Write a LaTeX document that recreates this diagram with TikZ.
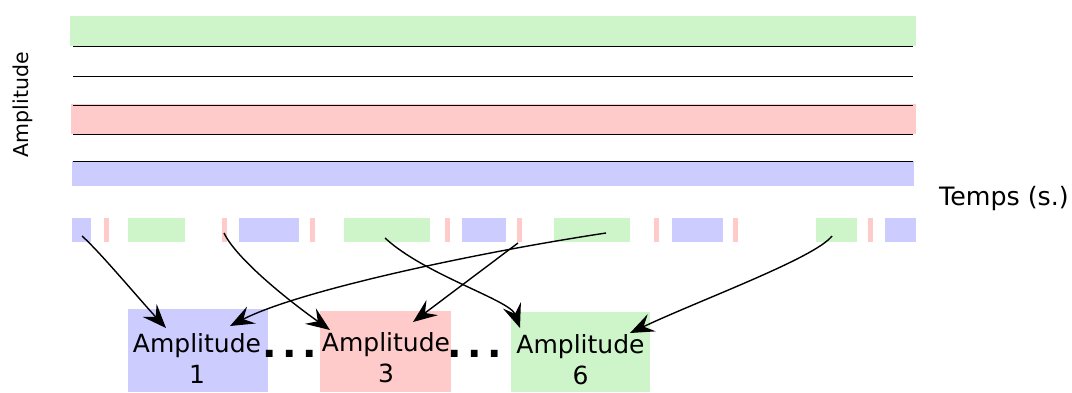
\documentclass[tikz,border=0pt]{standalone}
\usepackage{fontspec}
\usepackage{graphicx}
\setmainfont{DejaVu Sans}
\usetikzlibrary{arrows.meta}
\definecolor{gC}{RGB}{206,245,202}
\definecolor{rC}{RGB}{255,202,202}
\definecolor{bC}{RGB}{204,204,255}
\tikzset{
  band/.style={inner sep=0, outer sep=0, draw=none},
  segst/.style={inner sep=0, outer sep=0, draw=none, minimum height=24},
  ampbox/.style={inner sep=0, outer sep=0, draw=none},
  lbl/.style={align=center, inner sep=0, font=\fontsize{25}{31}\selectfont},
  dotst/.style={anchor=base west, inner sep=0, font=\fontsize{38}{38}\selectfont\bfseries},
  grid line/.style={line width=0.9pt, black},
  conn/.style={line width=1.4pt, -{Stealth[length=24pt,width=19pt,inset=9pt]}}
}
\newcommand\segm[4]{\node[segst, fill=#4, minimum width={#3-#2}] (#1) at ({(#2+#3)/2},230) {};}
\begin{document}
\begin{tikzpicture}[x=1pt,y=-1pt]
\useasboundingbox (0,0) rectangle (1072,392);
% bands
\node[band, fill=gC, minimum width=846, minimum height=30] (bandg) at (493,31) {};
\node[band, fill=rC, minimum width=845, minimum height=30] (bandr) at (493.5,119) {};
\node[band, fill=bC, minimum width=842, minimum height=25] (bandb) at (493,173.5) {};
\draw[grid line] (73,46) -- (913,46);
\draw[grid line] (73,76) -- (913,76);
\draw[grid line] (73,105) -- (913,105);
\draw[grid line] (73,134.5) -- (913,134.5);
\draw[grid line] (73,161) -- (913,161);
% labels
\node[rotate=90, anchor=base, inner sep=0, font=\fontsize{20.5}{24}\selectfont] (amp) at (28,104.5) {Amplitude};
\node[anchor=base west, inner sep=0, font=\fontsize{25.3}{30}\selectfont] (temps) at (939,205) {Temps (s.)};
% segments
\segm{s1}{72}{91}{bC}
\segm{s2}{104}{109}{rC}
\segm{s3}{128}{185}{gC}
\segm{s4}{222}{227}{rC}
\segm{s5}{239}{299}{bC}
\segm{s6}{310}{315}{rC}
\segm{s7}{344}{430}{gC}
\segm{s8}{445}{450}{rC}
\segm{s9}{462}{506}{bC}
\segm{s10}{517}{522}{rC}
\segm{s11}{554}{630}{gC}
\segm{s12}{654}{659}{rC}
\segm{s13}{672}{723}{bC}
\segm{s14}{733}{738}{rC}
\segm{s15}{816}{857}{gC}
\segm{s16}{868}{873}{rC}
\segm{s17}{885}{916}{bC}
% amplitude boxes
\node[ampbox, fill=bC, minimum width=140, minimum height=83] (b1) at (198,350.5) {};
\node[ampbox, fill=rC, minimum width=131, minimum height=81] (b3) at (385.5,351.5) {};
\node[ampbox, fill=gC, minimum width=139, minimum height=80] (b6) at (580.5,352) {};
\node[lbl] (l1) at (197,358) {Amplitude\\1};
\node[lbl] (l3) at (386,358) {Amplitude\\3};
\node[lbl] (l6) at (580.5,360) {Amplitude\\6};
\node[dotst] (d1) at (262,357) {.\kern5.5pt.\kern5.5pt.};
\node[dotst] (d2) at (447.5,357) {.\kern5.5pt.\kern5.5pt.};
% connector ends
\coordinate (c1) at (82,236);
\coordinate (c2) at (224,233);
\coordinate (c3) at (385,238);
\coordinate (c4) at (606,233);
\coordinate (c5) at (518,243);
\coordinate (c6) at (832,236);
\coordinate (t1) at (166,328);
\coordinate (t2) at (330,330);
\coordinate (t3) at (520,328);
\coordinate (t4) at (230,326);
\coordinate (t5) at (413,322);
\coordinate (t6) at (630,333);
\draw[conn] (c1) .. controls (100,252) and (140,300) .. (t1);
\draw[conn] (c2) .. controls (236,258) and (285,298) .. (t2);
\draw[conn] (c3) .. controls (425,275) and (510,300) .. (t3);
\draw[conn] (c4) .. controls (480,252) and (300,290) .. (t4);
\draw[conn] (c5) -- (t5);
\draw[conn] (c6) .. controls (815,258) and (700,300) .. (t6);
\end{tikzpicture}
\end{document}
